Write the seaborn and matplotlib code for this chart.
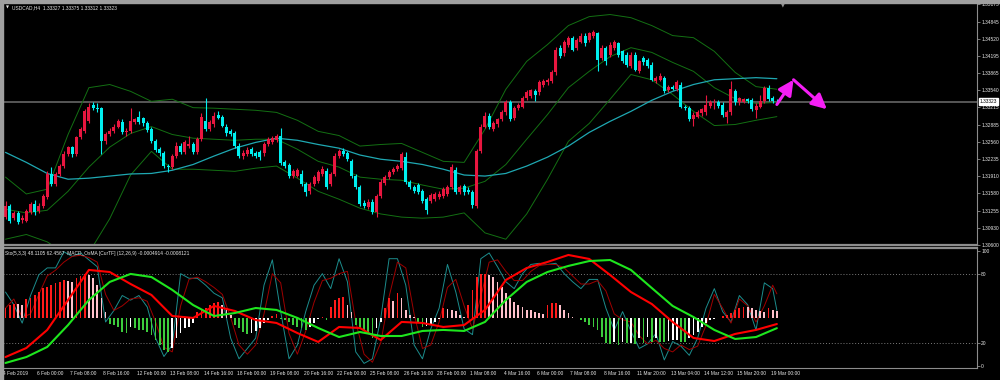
import numpy as np
import matplotlib
matplotlib.use("Agg")
import matplotlib.pyplot as plt
import matplotlib.transforms as mtransforms
from matplotlib.patches import Rectangle
import seaborn as sns

# USDCAD H4, 186 bars from 4 Feb 2019 16:00 to 19 Mar 2019 04:00
opens = [
    1.3113, 1.3134, 1.3111, 1.3120, 1.3107, 1.3105, 1.3122, 1.3138, 1.3124, 1.3134,
    1.3151, 1.3195, 1.3176, 1.3195, 1.3210, 1.3232, 1.3246, 1.3232, 1.3265, 1.3276,
    1.3295, 1.3327, 1.3321, 1.3320, 1.3257, 1.3270, 1.3276, 1.3285, 1.3293, 1.3274,
    1.3276, 1.3293, 1.3304, 1.3301, 1.3291, 1.3280, 1.3257, 1.3242, 1.3234, 1.3210,
    1.3208, 1.3229, 1.3249, 1.3236, 1.3248, 1.3251, 1.3236, 1.3261, 1.3295, 1.3280,
    1.3289, 1.3308, 1.3304, 1.3285, 1.3276, 1.3272, 1.3249, 1.3229, 1.3232, 1.3242,
    1.3234, 1.3236, 1.3234, 1.3251, 1.3255, 1.3259, 1.3267, 1.3217, 1.3212, 1.3191,
    1.3191, 1.3195, 1.3176, 1.3162, 1.3176, 1.3181, 1.3195, 1.3200, 1.3176, 1.3195,
    1.3229, 1.3238, 1.3234, 1.3219, 1.3191, 1.3170, 1.3139, 1.3132, 1.3141, 1.3122,
    1.3153, 1.3178, 1.3189, 1.3198, 1.3204, 1.3206, 1.3227, 1.3179, 1.3170, 1.3174,
    1.3162, 1.3147, 1.3143, 1.3147, 1.3151, 1.3153, 1.3157, 1.3170, 1.3202, 1.3161,
    1.3172, 1.3164, 1.3161, 1.3134, 1.3238, 1.3285, 1.3306, 1.3280, 1.3289, 1.3299,
    1.3312, 1.3331, 1.3301, 1.3320, 1.3323, 1.3339, 1.3344, 1.3352, 1.3350, 1.3365,
    1.3369, 1.3371, 1.3388, 1.3435, 1.3424, 1.3441, 1.3454, 1.3435, 1.3446, 1.3458,
    1.3450, 1.3458, 1.3462, 1.3416, 1.3435, 1.3422, 1.3435, 1.3443, 1.3428, 1.3422,
    1.3401, 1.3422, 1.3390, 1.3416, 1.3412, 1.3403, 1.3371, 1.3374, 1.3378, 1.3354,
    1.3361, 1.3356, 1.3365, 1.3323, 1.3321, 1.3299, 1.3304, 1.3310, 1.3312, 1.3325,
    1.3329, 1.3331, 1.3327, 1.3304, 1.3312, 1.3352, 1.3331, 1.3331, 1.3337, 1.3335,
    1.3316, 1.3323, 1.3333, 1.3359, 1.3340, 1.33327,
]
highs = [
    1.3143, 1.3138, 1.3124, 1.3124, 1.3117, 1.3128, 1.3141, 1.3145, 1.3139, 1.3157,
    1.3200, 1.3208, 1.3198, 1.3213, 1.3238, 1.3249, 1.3249, 1.3268, 1.3285, 1.3318,
    1.3329, 1.3331, 1.3329, 1.3323, 1.3274, 1.3282, 1.3289, 1.3300, 1.3299, 1.3282,
    1.3320, 1.3302, 1.3314, 1.3304, 1.3295, 1.3284, 1.3261, 1.3246, 1.3238, 1.3213,
    1.3232, 1.3255, 1.3253, 1.3259, 1.3267, 1.3255, 1.3265, 1.3310, 1.3340, 1.3297,
    1.3312, 1.3314, 1.3308, 1.3289, 1.3280, 1.3276, 1.3253, 1.3240, 1.3246, 1.3246,
    1.3238, 1.3240, 1.3255, 1.3265, 1.3267, 1.3270, 1.3282, 1.3221, 1.3215, 1.3204,
    1.3206, 1.3202, 1.3179, 1.3179, 1.3193, 1.3202, 1.3210, 1.3206, 1.3198, 1.3234,
    1.3242, 1.3244, 1.3238, 1.3223, 1.3195, 1.3174, 1.3145, 1.3147, 1.3147, 1.3157,
    1.3185, 1.3193, 1.3202, 1.3208, 1.3213, 1.3236, 1.3236, 1.3183, 1.3174, 1.3178,
    1.3166, 1.3151, 1.3159, 1.3161, 1.3162, 1.3170, 1.3174, 1.3213, 1.3208, 1.3174,
    1.3176, 1.3170, 1.3164, 1.3242, 1.3289, 1.3312, 1.3310, 1.3295, 1.3302, 1.3316,
    1.3335, 1.3335, 1.3325, 1.3329, 1.3344, 1.3354, 1.3357, 1.3356, 1.3373, 1.3376,
    1.3378, 1.3392, 1.3437, 1.3441, 1.3450, 1.3458, 1.3458, 1.3454, 1.3462, 1.3462,
    1.3465, 1.3469, 1.3465, 1.3441, 1.3439, 1.3445, 1.3450, 1.3446, 1.3431, 1.3426,
    1.3426, 1.3426, 1.3412, 1.3420, 1.3416, 1.3407, 1.3382, 1.3386, 1.3382, 1.3365,
    1.3365, 1.3373, 1.3369, 1.3327, 1.3325, 1.3312, 1.3316, 1.3321, 1.3346, 1.3335,
    1.3337, 1.3335, 1.3331, 1.3316, 1.3371, 1.3356, 1.3342, 1.3340, 1.3340, 1.3339,
    1.3329, 1.3346, 1.3363, 1.3365, 1.3344, 1.33375,
]
lows = [
    1.3109, 1.3102, 1.3107, 1.3100, 1.3102, 1.3103, 1.3119, 1.3117, 1.3120, 1.3130,
    1.3147, 1.3172, 1.3172, 1.3191, 1.3206, 1.3229, 1.3227, 1.3229, 1.3261, 1.3272,
    1.3291, 1.3316, 1.3312, 1.3232, 1.3251, 1.3267, 1.3272, 1.3282, 1.3270, 1.3268,
    1.3272, 1.3289, 1.3289, 1.3287, 1.3274, 1.3253, 1.3236, 1.3230, 1.3206, 1.3198,
    1.3204, 1.3225, 1.3232, 1.3232, 1.3244, 1.3232, 1.3232, 1.3257, 1.3276, 1.3276,
    1.3285, 1.3299, 1.3284, 1.3268, 1.3267, 1.3244, 1.3225, 1.3223, 1.3229, 1.3229,
    1.3225, 1.3221, 1.3230, 1.3248, 1.3251, 1.3255, 1.3212, 1.3206, 1.3187, 1.3187,
    1.3189, 1.3172, 1.3153, 1.3157, 1.3172, 1.3178, 1.3191, 1.3166, 1.3172, 1.3191,
    1.3225, 1.3229, 1.3219, 1.3187, 1.3166, 1.3134, 1.3130, 1.3128, 1.3119, 1.3113,
    1.3149, 1.3174, 1.3185, 1.3195, 1.3200, 1.3202, 1.3176, 1.3166, 1.3159, 1.3157,
    1.3139, 1.3119, 1.3139, 1.3143, 1.3147, 1.3149, 1.3153, 1.3166, 1.3157, 1.3157,
    1.3155, 1.3157, 1.3130, 1.3130, 1.3234, 1.3282, 1.3280, 1.3276, 1.3285, 1.3295,
    1.3308, 1.3295, 1.3297, 1.3316, 1.3320, 1.3335, 1.3340, 1.3333, 1.3346, 1.3361,
    1.3365, 1.3367, 1.3384, 1.3416, 1.3420, 1.3437, 1.3428, 1.3431, 1.3443, 1.3439,
    1.3446, 1.3454, 1.3390, 1.3412, 1.3403, 1.3418, 1.3431, 1.3418, 1.3405, 1.3399,
    1.3397, 1.3390, 1.3386, 1.3403, 1.3397, 1.3371, 1.3367, 1.3371, 1.3348, 1.3350,
    1.3354, 1.3352, 1.3320, 1.3316, 1.3295, 1.3287, 1.3301, 1.3306, 1.3308, 1.3321,
    1.3318, 1.3321, 1.3304, 1.3291, 1.3308, 1.3327, 1.3327, 1.3329, 1.3329, 1.3314,
    1.3302, 1.3320, 1.3329, 1.3333, 1.3329, 1.33312,
]
closes = [
    1.3134, 1.3105, 1.3120, 1.3103, 1.3111, 1.3124, 1.3138, 1.3122, 1.3134, 1.3153,
    1.3195, 1.3176, 1.3195, 1.3210, 1.3232, 1.3246, 1.3232, 1.3265, 1.3280, 1.3314,
    1.3323, 1.3321, 1.3318, 1.3257, 1.3270, 1.3276, 1.3285, 1.3295, 1.3274, 1.3276,
    1.3295, 1.3299, 1.3293, 1.3291, 1.3278, 1.3257, 1.3240, 1.3234, 1.3210, 1.3208,
    1.3229, 1.3249, 1.3236, 1.3255, 1.3251, 1.3236, 1.3261, 1.3304, 1.3280, 1.3293,
    1.3306, 1.3302, 1.3287, 1.3272, 1.3270, 1.3248, 1.3229, 1.3234, 1.3240, 1.3232,
    1.3229, 1.3227, 1.3251, 1.3261, 1.3263, 1.3267, 1.3215, 1.3210, 1.3191, 1.3200,
    1.3202, 1.3176, 1.3161, 1.3176, 1.3189, 1.3198, 1.3204, 1.3170, 1.3195, 1.3230,
    1.3238, 1.3232, 1.3223, 1.3191, 1.3170, 1.3138, 1.3134, 1.3141, 1.3122, 1.3153,
    1.3179, 1.3189, 1.3198, 1.3204, 1.3210, 1.3232, 1.3179, 1.3170, 1.3162, 1.3161,
    1.3143, 1.3126, 1.3155, 1.3157, 1.3157, 1.3166, 1.3170, 1.3208, 1.3161, 1.3170,
    1.3161, 1.3161, 1.3136, 1.3238, 1.3284, 1.3306, 1.3284, 1.3291, 1.3299, 1.3312,
    1.3331, 1.3299, 1.3321, 1.3326, 1.3340, 1.3350, 1.3354, 1.3346, 1.3369, 1.3371,
    1.3373, 1.3388, 1.3431, 1.3420, 1.3446, 1.3454, 1.3431, 1.3450, 1.3458, 1.3443,
    1.3462, 1.3465, 1.3412, 1.3435, 1.3409, 1.3441, 1.3446, 1.3422, 1.3409, 1.3403,
    1.3422, 1.3393, 1.3409, 1.3407, 1.3401, 1.3374, 1.3378, 1.3382, 1.3352, 1.3361,
    1.3357, 1.3369, 1.3323, 1.3320, 1.3299, 1.3308, 1.3312, 1.3318, 1.3327, 1.3331,
    1.3330, 1.3325, 1.3308, 1.3312, 1.3356, 1.3331, 1.3339, 1.3337, 1.3333, 1.3318,
    1.3325, 1.3333, 1.3359, 1.3337, 1.3333, 1.33323,
]

# Bollinger bands and moving average, read every 5 bars
band_upper = [1.3189, 1.3157, 1.3166, 1.3270, 1.3359, 1.3365, 1.3352, 1.3333, 1.3337, 1.3321,
              1.3320, 1.3318, 1.3316, 1.3312, 1.3297, 1.3276, 1.3268, 1.3248, 1.3251, 1.3253,
              1.3236, 1.3219, 1.3217, 1.3280, 1.3356, 1.3409, 1.3441, 1.3477, 1.3494, 1.3498,
              1.3492, 1.3477, 1.3458, 1.3454, 1.3428, 1.3388, 1.3361, 1.3356]
band_mid = [1.3128, 1.3121, 1.3126, 1.3162, 1.3208, 1.3246, 1.3272, 1.3285, 1.3270, 1.3263,
            1.3261, 1.3259, 1.3261, 1.3261, 1.3242, 1.3219, 1.3208, 1.3189, 1.3185, 1.3183,
            1.3174, 1.3166, 1.3168, 1.3181, 1.3213, 1.3261, 1.3308, 1.3359, 1.3390, 1.3418,
            1.3435, 1.3426, 1.3407, 1.3390, 1.3359, 1.3338, 1.3329, 1.3331]
band_lower = [1.3071, 1.3080, 1.3066, 1.3040, 1.3045, 1.3110, 1.3193, 1.3238, 1.3204, 1.3204,
              1.3202, 1.3200, 1.3206, 1.3210, 1.3187, 1.3162, 1.3147, 1.3130, 1.3119, 1.3113,
              1.3111, 1.3113, 1.3121, 1.3083, 1.3071, 1.3119, 1.3185, 1.3257, 1.3291, 1.3337,
              1.3384, 1.3374, 1.3346, 1.3314, 1.3287, 1.3289, 1.3297, 1.3304]
ma_line = [1.3236, 1.3217, 1.3196, 1.3185, 1.3187, 1.3191, 1.3195, 1.3196, 1.3202, 1.3213,
           1.3229, 1.3244, 1.3255, 1.3263, 1.3259, 1.3251, 1.3244, 1.3231, 1.3223, 1.3219,
           1.3213, 1.3204, 1.3193, 1.3191, 1.3196, 1.3210, 1.3227, 1.3248, 1.3274, 1.3295,
           1.3314, 1.3335, 1.3352, 1.3365, 1.3374, 1.3376, 1.3378, 1.3376]

# Stochastic (5,3,3), read every 2 bars plus the last bar
sto_main = [64, 53, 37, 61, 79, 85, 85, 99, 95, 98,
            92, 86, 38, 48, 61, 57, 61, 51, 24, 8,
            18, 80, 76, 76, 70, 63, 59, 24, 6, 15,
            24, 70, 92, 47, 6, 18, 47, 70, 80, 67,
            93, 73, 12, 2, 6, 41, 93, 93, 70, 18,
            6, 32, 50, 88, 64, 32, 27, 93, 98, 86,
            73, 67, 80, 88, 89, 88, 89, 80, 73, 67,
            75, 75, 50, 31, 47, 30, 15, 19, 28, 5,
            21, 17, 9, 24, 50, 67, 47, 38, 61, 53,
            31, 72, 67, 48.1105]
sto_signal = [50, 58, 42, 45, 62, 78, 83, 90, 95, 96,
              94, 90, 62, 48, 52, 58, 59, 56, 38, 16,
              12, 52, 75, 77, 73, 68, 62, 42, 18, 10,
              18, 45, 80, 72, 28, 10, 30, 55, 74, 76,
              80, 82, 38, 10, 3, 20, 60, 90, 85, 45,
              15, 18, 38, 68, 75, 52, 32, 60, 90, 92,
              82, 74, 74, 82, 87, 88, 88, 85, 78, 71,
              71, 74, 65, 45, 40, 38, 26, 19, 22, 15,
              12, 18, 14, 17, 35, 62, 50, 37, 58, 52,
              38, 52, 70, 62.4567]

# MACD_OsMA (12,26,9), values x 1e-4; lines read every 5 bars
macd_main = [-30.5, -23.5, -9.5, 13.7, 37.0, 35.4, 26.1, 17.6, 1.3, -0.2,
             9.1, 5.2, -1.8, -4.1, -11.9, -18.8, -7.2, -8.0, -17.3, -3.3,
             -4.1, -7.2, -5.7, 6.0, 29.2, 38.5, 43.2, 48.6, 45.5, 33.1,
             19.9, 10.6, -3.3, -15.7, -18.1, -12.6, -9.5, -4.914]
macd_signal = [-35.1, -30.5, -22.7, -5.7, 13.7, 27.7, 33.9, 31.5, 21.5, 9.8,
               1.3, 3.6, 7.5, 6.0, -0.2, -8.0, -15.0, -11.1, -14.2, -14.2,
               -10.3, -9.5, -10.3, -3.3, 13.7, 27.7, 35.4, 40.1, 43.9, 44.7,
               37.0, 23.0, 9.1, 0.5, -9.5, -16.5, -15.0, -8.121]
osma_hist = [
    7.7, 9.8, 10.8, 10.3, 9.8, 14.4, 15.0, 17.5, 20.1, 22.7,
    24.0, 25.3, 26.6, 27.9, 29.2, 28.6, 27.9, 31.0, 32.5, 33.5,
    33.0, 30.4, 25.3, 15.0, 4.6, -5.2, -5.7, -7.0, -10.8, -12.1,
    -7.0, -8.3, -9.5, -9.8, -10.8, -13.4, -17.3, -21.2, -25.0, -26.3,
    -23.7, -16.0, -12.1, -8.3, -7.0, -4.4, 4.6, 5.9, 7.7, 9.8,
    11.1, 11.9, 9.8, 5.9, 2.1, -5.7, -8.3, -11.4, -12.9, -12.1,
    -10.3, -8.3, -4.4, -1.8, 1.5, 2.6, -1.3, -2.1, -3.6, -5.7,
    -7.0, -8.3, -9.5, -7.0, -4.4, -1.0, 0.5, -1.8, 8.5, 13.7,
    15.5, 16.0, 9.8, 4.6, -5.7, -8.3, -10.3, -12.1, -16.0, -7.7,
    -3.1, 7.2, 15.0, 12.9, 18.8, 15.0, 5.9, 2.1, 0.8, -4.4,
    -7.0, -6.2, -5.2, -3.6, -1.0, 7.2, 6.7, 5.9, 5.2, 2.1,
    0.8, 9.8, 21.4, 31.7, 33.5, 33.8, 33.0, 31.7, 27.9, 24.0,
    18.8, 15.0, 12.4, 9.8, 8.5, 5.9, 5.7, 4.6, 3.4, 3.1,
    9.8, 11.1, 11.4, 9.8, 5.9, 3.4, 0.8, -0.5, -1.8, -3.1,
    -5.7, -7.0, -9.5, -14.7, -19.9, -20.1, -18.6, -21.2, -18.6, -19.9,
    -19.4, -20.1, -16.0, -19.9, -14.7, -18.6, -16.0, -18.6, -19.1, -18.1,
    -17.6, -17.3, -18.6, -19.1, -16.0, -13.4, -10.8, -7.0, -4.4, -1.8,
    -1.0, -0.3, 1.3, 2.1, 3.4, 5.9, 7.2, 8.5, 8.3, 7.2,
    5.9, 5.2, 4.6, 7.7, 5.9, 5.2,
]

price_ticks = [1.35175, 1.34845, 1.34520, 1.34195, 1.33865, 1.33540, 1.33215, 1.32885,
               1.32560, 1.32235, 1.31910, 1.31580, 1.31255, 1.30930, 1.30600]
date_labels = ["4 Feb 2019", "6 Feb 00:00", "7 Feb 08:00", "8 Feb 16:00", "12 Feb 00:00",
               "13 Feb 08:00", "14 Feb 16:00", "18 Feb 00:00", "19 Feb 08:00", "20 Feb 16:00",
               "22 Feb 00:00", "25 Feb 08:00", "26 Feb 16:00", "28 Feb 00:00", "1 Mar 08:00",
               "4 Mar 16:00", "6 Mar 00:00", "7 Mar 08:00", "8 Mar 16:00", "11 Mar 20:00",
               "13 Mar 04:00", "14 Mar 12:00", "15 Mar 20:00", "19 Mar 00:00"]
bid_price = 1.33323
# hand drawn forecast arrows (bar, price)
forecast_bars = [185, 189, 197]
forecast_prices = [1.3327, 1.3374, 1.3318]

sns.set_style("dark", {"axes.facecolor": "black", "figure.facecolor": "black"})
plt.rcParams["font.family"] = ["Liberation Sans", "DejaVu Sans"]

UP = "#e8163f"
DOWN = "#00f0f0"
BAND = "#137013"
GRAYL = "#8c8c8c"
TXT = "#e8e8e8"
FS = 3.5

o, h, l, c = map(np.array, (opens, highs, lows, closes))
bars = np.arange(len(o))
band_bars = np.arange(0, len(o), 5)
sto_bars = np.r_[np.arange(0, len(o) - 1, 2), len(o) - 1]

fig = plt.figure(figsize=(10, 3.8), dpi=100)
ax = fig.add_axes([0.003, (380 - 245) / 380, 0.974, (245 - 4) / 380])
ax2 = fig.add_axes([0.003, (380 - 368) / 380, 0.974, (368 - 248) / 380])
ax3 = ax2.twinx()
xlim = (-0.6, 233.0)

# window frame
fig.patches.append(Rectangle((0, 0), 0.003, 1, transform=fig.transFigure, color="#a0a0a0"))
fig.patches.append(Rectangle((0, 0.993), 1, 0.007, transform=fig.transFigure, color="#a0a0a0"))

# main chart
ax.set_facecolor("black")
ax.axhline(bid_price, color="#5e5e5e", lw=1.3, zorder=1)
for vals, col, lw in ((band_upper, BAND, 0.7), (band_mid, BAND, 0.7), (band_lower, BAND, 0.7),
                      (ma_line, "#1fa8b2", 0.9)):
    sns.lineplot(x=band_bars, y=vals, ax=ax, color=col, linewidth=lw, zorder=2)

up = c >= o
cols = np.where(up, UP, DOWN)
ax.vlines(bars, l, h, colors=cols, lw=0.8, zorder=3)
ax.bar(bars, np.maximum(np.abs(c - o), 0.00004), bottom=np.minimum(o, c), width=0.72,
       color=cols, linewidth=0, zorder=4)

for i in range(2):
    ax.annotate("", xy=(forecast_bars[i + 1], forecast_prices[i + 1]),
                xytext=(forecast_bars[i], forecast_prices[i]),
                arrowprops=dict(arrowstyle="-|>,head_length=0.9,head_width=0.45",
                                color="#f51ef5", lw=2.2, shrinkA=0, shrinkB=0), zorder=6)

ax.set_xlim(*xlim)
ax.set_ylim(1.3062, 1.3518)
ax.set_xticks([])
ax.yaxis.tick_right()
ax.set_yticks(price_ticks)
ax.set_yticklabels([f"{t:.5f}" for t in price_ticks])
ax.tick_params(axis="y", labelsize=FS, colors=GRAYL, labelcolor=TXT, length=2, width=0.6, pad=1)
for s in ("top", "left"):
    ax.spines[s].set_visible(False)
ax.spines["right"].set_color(GRAYL)
ax.spines["right"].set_linewidth(0.8)
ax.spines["bottom"].set_color(GRAYL)
ax.spines["bottom"].set_linewidth(1.6)
ax.set_ylabel("")
ax.grid(False)

trans = mtransforms.blended_transform_factory(ax.transAxes, ax.transData)
ax.text(1.003, bid_price, f"{bid_price:.5f}", transform=trans, fontsize=FS, color="black",
        va="center", ha="left", zorder=8,
        bbox=dict(boxstyle="square,pad=0.15", fc="white", ec="white"))
ax.text(0.003, 0.985, "\u25bc", transform=ax.transAxes, fontsize=2.8, color=TXT, va="center",
        family="DejaVu Sans")
ax.text(0.009, 0.985, "USDCAD,H4  1.33327 1.33375 1.33312 1.33323", transform=ax.transAxes,
        fontsize=FS, color=TXT, va="center", ha="left")
fig.text(0.783, 0.987, "\u25bc", fontsize=3.5, color="#909090", ha="center", va="center",
         family="DejaVu Sans")

# sub window: stochastic + MACD OsMA
ax2.set_facecolor("black")
for lvl in (20, 80):
    ax2.axhline(lvl, color="#7a7a7a", lw=0.7, ls=(0, (1, 2)))
sns.lineplot(x=sto_bars, y=sto_main, ax=ax2, color="#1c8d8d", linewidth=0.7)
sns.lineplot(x=sto_bars, y=sto_signal, ax=ax2, color="#a00000", linewidth=0.7)
ax2.set_xlim(*xlim)
ax2.set_ylim(-2, 102.3)
ax2.yaxis.tick_right()
ax2.yaxis.set_label_position("right")
ax2.set_yticks([0, 20, 80, 100])
ax2.set_yticklabels(["0", "20", "80", "100"])
ax2.tick_params(axis="y", left=False, labelleft=False, right=True, labelright=True,
                labelsize=FS, colors=GRAYL, labelcolor=TXT, length=2, width=0.6, pad=1)
ax2.set_xticks(np.arange(0, len(o), 8) - 0.5)
ax2.set_xticklabels(date_labels, ha="left")
ax2.tick_params(axis="x", labelsize=FS, colors=GRAYL, labelcolor=TXT, length=2, width=0.6, pad=0.5)
ax2.spines["left"].set_visible(False)
for s in ("top", "right", "bottom"):
    ax2.spines[s].set_color(GRAYL)
    ax2.spines[s].set_linewidth(0.8)
ax2.spines["top"].set_linewidth(1.6)
ax2.grid(False)
ax2.set_ylabel("")

hist = np.array(osma_hist)
d = np.diff(hist, prepend=hist[0])
hcols = np.where(hist >= 0, np.where(d >= 0, "#ff1a1a", "#ffc0cb"),
                 np.where(d <= 0, "#3ccc3c", "#ffffff"))
ax3.bar(bars, hist, width=0.42, color=hcols, linewidth=0, zorder=2)
sns.lineplot(x=band_bars, y=macd_main, ax=ax3, color="#ff0000", linewidth=1.5, zorder=3)
sns.lineplot(x=band_bars, y=macd_signal, ax=ax3, color="#1ee61e", linewidth=1.5, zorder=3)
ax3.set_ylim(-39, 54)
ax3.set_xlim(*xlim)
ax3.set_yticks([])
ax3.set_ylabel("")
ax3.tick_params(axis="y", left=False, right=False, labelleft=False, labelright=False)
ax3.grid(False)
for s in ax3.spines.values():
    s.set_visible(False)
ax3.text(0.002, 0.95, "Sto(5,3,3) 48.1105 62.4567  MACD_OsMA [CurTF] (12,26,9) -0.0004914 -0.0008121",
         transform=ax3.transAxes, fontsize=FS, color=TXT, va="center", ha="left", zorder=10)

fig.savefig("out.png", dpi=100, facecolor="black")
